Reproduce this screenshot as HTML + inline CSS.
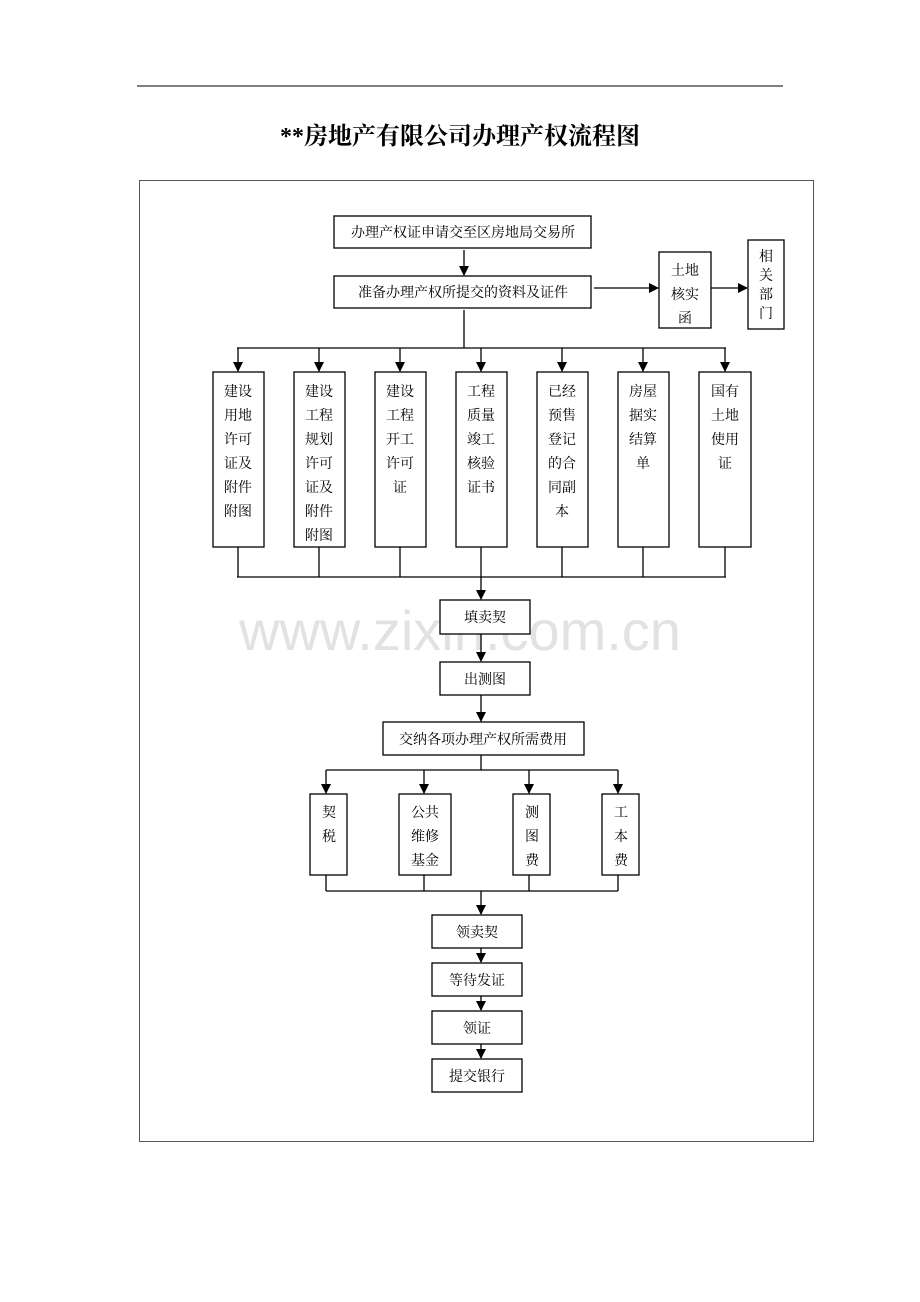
<!DOCTYPE html>
<html><head><meta charset="utf-8"><style>
html,body{margin:0;padding:0;background:#fff;}
svg{display:block;}
text{font-family:"Liberation Serif","Noto Serif CJK SC","Noto Sans CJK SC",serif;font-size:14px;fill:#000;text-anchor:middle;}
.b{fill:#fff;stroke:#000;stroke-width:1.3;}
.l{stroke:#000;stroke-width:1.3;fill:none;}
</style></head><body>
<svg width="920" height="1302" viewBox="0 0 920 1302">
<defs><marker id="a" markerWidth="10" markerHeight="10" refX="9" refY="5" orient="auto" markerUnits="userSpaceOnUse"><path d="M0,0 L10,5 L0,10 z" fill="#000"/></marker></defs>
<line x1="137" y1="86" x2="783" y2="86" stroke="#000" stroke-width="1"/>
<text x="460" y="144" style="font-size:24px;font-weight:bold">**房地产有限公司办理产权流程图</text>
<rect x="139.5" y="180.5" width="674" height="961" fill="none" stroke="#555" stroke-width="1"/>
<text x="460" y="650" style="font-family:'Liberation Sans',sans-serif;font-size:56px;fill:#e2e2e2">www.zixin.com.cn</text>

<rect class="b" x="334" y="216" width="257" height="32"/><text x="463" y="237">办理产权证申请交至区房地局交易所</text>
<line class="l" x1="464" y1="250" x2="464" y2="275" marker-end="url(#a)"/>
<rect class="b" x="334" y="276" width="257" height="32"/><text x="463" y="297">准备办理产权所提交的资料及证件</text>
<line class="l" x1="594" y1="288" x2="658" y2="288" marker-end="url(#a)"/>
<rect class="b" x="659" y="252" width="52" height="76"/>
<text x="685" y="275">土地</text><text x="685" y="299">核实</text><text x="685" y="323">函</text>
<line class="l" x1="711" y1="288" x2="747" y2="288" marker-end="url(#a)"/>
<rect class="b" x="748" y="240" width="36" height="89"/>
<text x="766" y="261">相</text><text x="766" y="280">关</text><text x="766" y="299">部</text><text x="766" y="318">门</text>

<line class="l" x1="464" y1="310" x2="464" y2="348"/>
<line class="l" x1="237" y1="348" x2="726" y2="348"/>
<g class="l">
<line x1="238" y1="348" x2="238" y2="371" marker-end="url(#a)"/>
<line x1="319" y1="348" x2="319" y2="371" marker-end="url(#a)"/>
<line x1="400" y1="348" x2="400" y2="371" marker-end="url(#a)"/>
<line x1="481" y1="348" x2="481" y2="371" marker-end="url(#a)"/>
<line x1="562" y1="348" x2="562" y2="371" marker-end="url(#a)"/>
<line x1="643" y1="348" x2="643" y2="371" marker-end="url(#a)"/>
<line x1="725" y1="348" x2="725" y2="371" marker-end="url(#a)"/>
</g>
<rect class="b" x="213" y="372" width="51" height="175"/>
<rect class="b" x="294" y="372" width="51" height="175"/>
<rect class="b" x="375" y="372" width="51" height="175"/>
<rect class="b" x="456" y="372" width="51" height="175"/>
<rect class="b" x="537" y="372" width="51" height="175"/>
<rect class="b" x="618" y="372" width="51" height="175"/>
<rect class="b" x="699" y="372" width="52" height="175"/>
<g>
<text x="238" y="396">建设</text><text x="238" y="420">用地</text><text x="238" y="444">许可</text><text x="238" y="468">证及</text><text x="238" y="492">附件</text><text x="238" y="516">附图</text>
<text x="319" y="396">建设</text><text x="319" y="420">工程</text><text x="319" y="444">规划</text><text x="319" y="468">许可</text><text x="319" y="492">证及</text><text x="319" y="516">附件</text><text x="319" y="540">附图</text>
<text x="400" y="396">建设</text><text x="400" y="420">工程</text><text x="400" y="444">开工</text><text x="400" y="468">许可</text><text x="400" y="492">证</text>
<text x="481" y="396">工程</text><text x="481" y="420">质量</text><text x="481" y="444">竣工</text><text x="481" y="468">核验</text><text x="481" y="492">证书</text>
<text x="562" y="396">已经</text><text x="562" y="420">预售</text><text x="562" y="444">登记</text><text x="562" y="468">的合</text><text x="562" y="492">同副</text><text x="562" y="516">本</text>
<text x="643" y="396">房屋</text><text x="643" y="420">据实</text><text x="643" y="444">结算</text><text x="643" y="468">单</text>
<text x="725" y="396">国有</text><text x="725" y="420">土地</text><text x="725" y="444">使用</text><text x="725" y="468">证</text>
</g>
<g class="l">
<line x1="238" y1="547" x2="238" y2="577"/><line x1="319" y1="547" x2="319" y2="577"/><line x1="400" y1="547" x2="400" y2="577"/>
<line x1="562" y1="547" x2="562" y2="577"/><line x1="643" y1="547" x2="643" y2="577"/><line x1="725" y1="547" x2="725" y2="577"/>
<line x1="237" y1="577" x2="726" y2="577"/>
<line x1="481" y1="547" x2="481" y2="599" marker-end="url(#a)"/>
</g>
<rect class="b" x="440" y="600" width="90" height="34"/><text x="485" y="622">填卖契</text>
<line class="l" x1="481" y1="634" x2="481" y2="661" marker-end="url(#a)"/>
<rect class="b" x="440" y="662" width="90" height="33"/><text x="485" y="684">出测图</text>
<line class="l" x1="481" y1="695" x2="481" y2="721" marker-end="url(#a)"/>
<rect class="b" x="383" y="722" width="201" height="33"/><text x="483" y="744">交纳各项办理产权所需费用</text>
<g class="l">
<line x1="481" y1="755" x2="481" y2="770"/>
<line x1="326" y1="770" x2="618" y2="770"/>
<line x1="326" y1="770" x2="326" y2="793" marker-end="url(#a)"/>
<line x1="424" y1="770" x2="424" y2="793" marker-end="url(#a)"/>
<line x1="529" y1="770" x2="529" y2="793" marker-end="url(#a)"/>
<line x1="618" y1="770" x2="618" y2="793" marker-end="url(#a)"/>
</g>
<rect class="b" x="310" y="794" width="37" height="81"/>
<rect class="b" x="399" y="794" width="52" height="81"/>
<rect class="b" x="513" y="794" width="37" height="81"/>
<rect class="b" x="602" y="794" width="37" height="81"/>
<text x="329" y="817">契</text><text x="329" y="841">税</text>
<text x="425" y="817">公共</text><text x="425" y="841">维修</text><text x="425" y="865">基金</text>
<text x="532" y="817">测</text><text x="532" y="841">图</text><text x="532" y="865">费</text>
<text x="621" y="817">工</text><text x="621" y="841">本</text><text x="621" y="865">费</text>
<g class="l">
<line x1="326" y1="875" x2="326" y2="891"/><line x1="424" y1="875" x2="424" y2="891"/>
<line x1="529" y1="875" x2="529" y2="891"/><line x1="618" y1="875" x2="618" y2="891"/>
<line x1="326" y1="891" x2="618" y2="891"/>
<line x1="481" y1="891" x2="481" y2="914" marker-end="url(#a)"/>
</g>
<rect class="b" x="432" y="915" width="90" height="33"/><text x="477" y="937">领卖契</text>
<line class="l" x1="481" y1="948" x2="481" y2="962" marker-end="url(#a)"/>
<rect class="b" x="432" y="963" width="90" height="33"/><text x="477" y="985">等待发证</text>
<line class="l" x1="481" y1="996" x2="481" y2="1010" marker-end="url(#a)"/>
<rect class="b" x="432" y="1011" width="90" height="33"/><text x="477" y="1033">领证</text>
<line class="l" x1="481" y1="1044" x2="481" y2="1058" marker-end="url(#a)"/>
<rect class="b" x="432" y="1059" width="90" height="33"/><text x="477" y="1081">提交银行</text>
</svg>
</body></html>
